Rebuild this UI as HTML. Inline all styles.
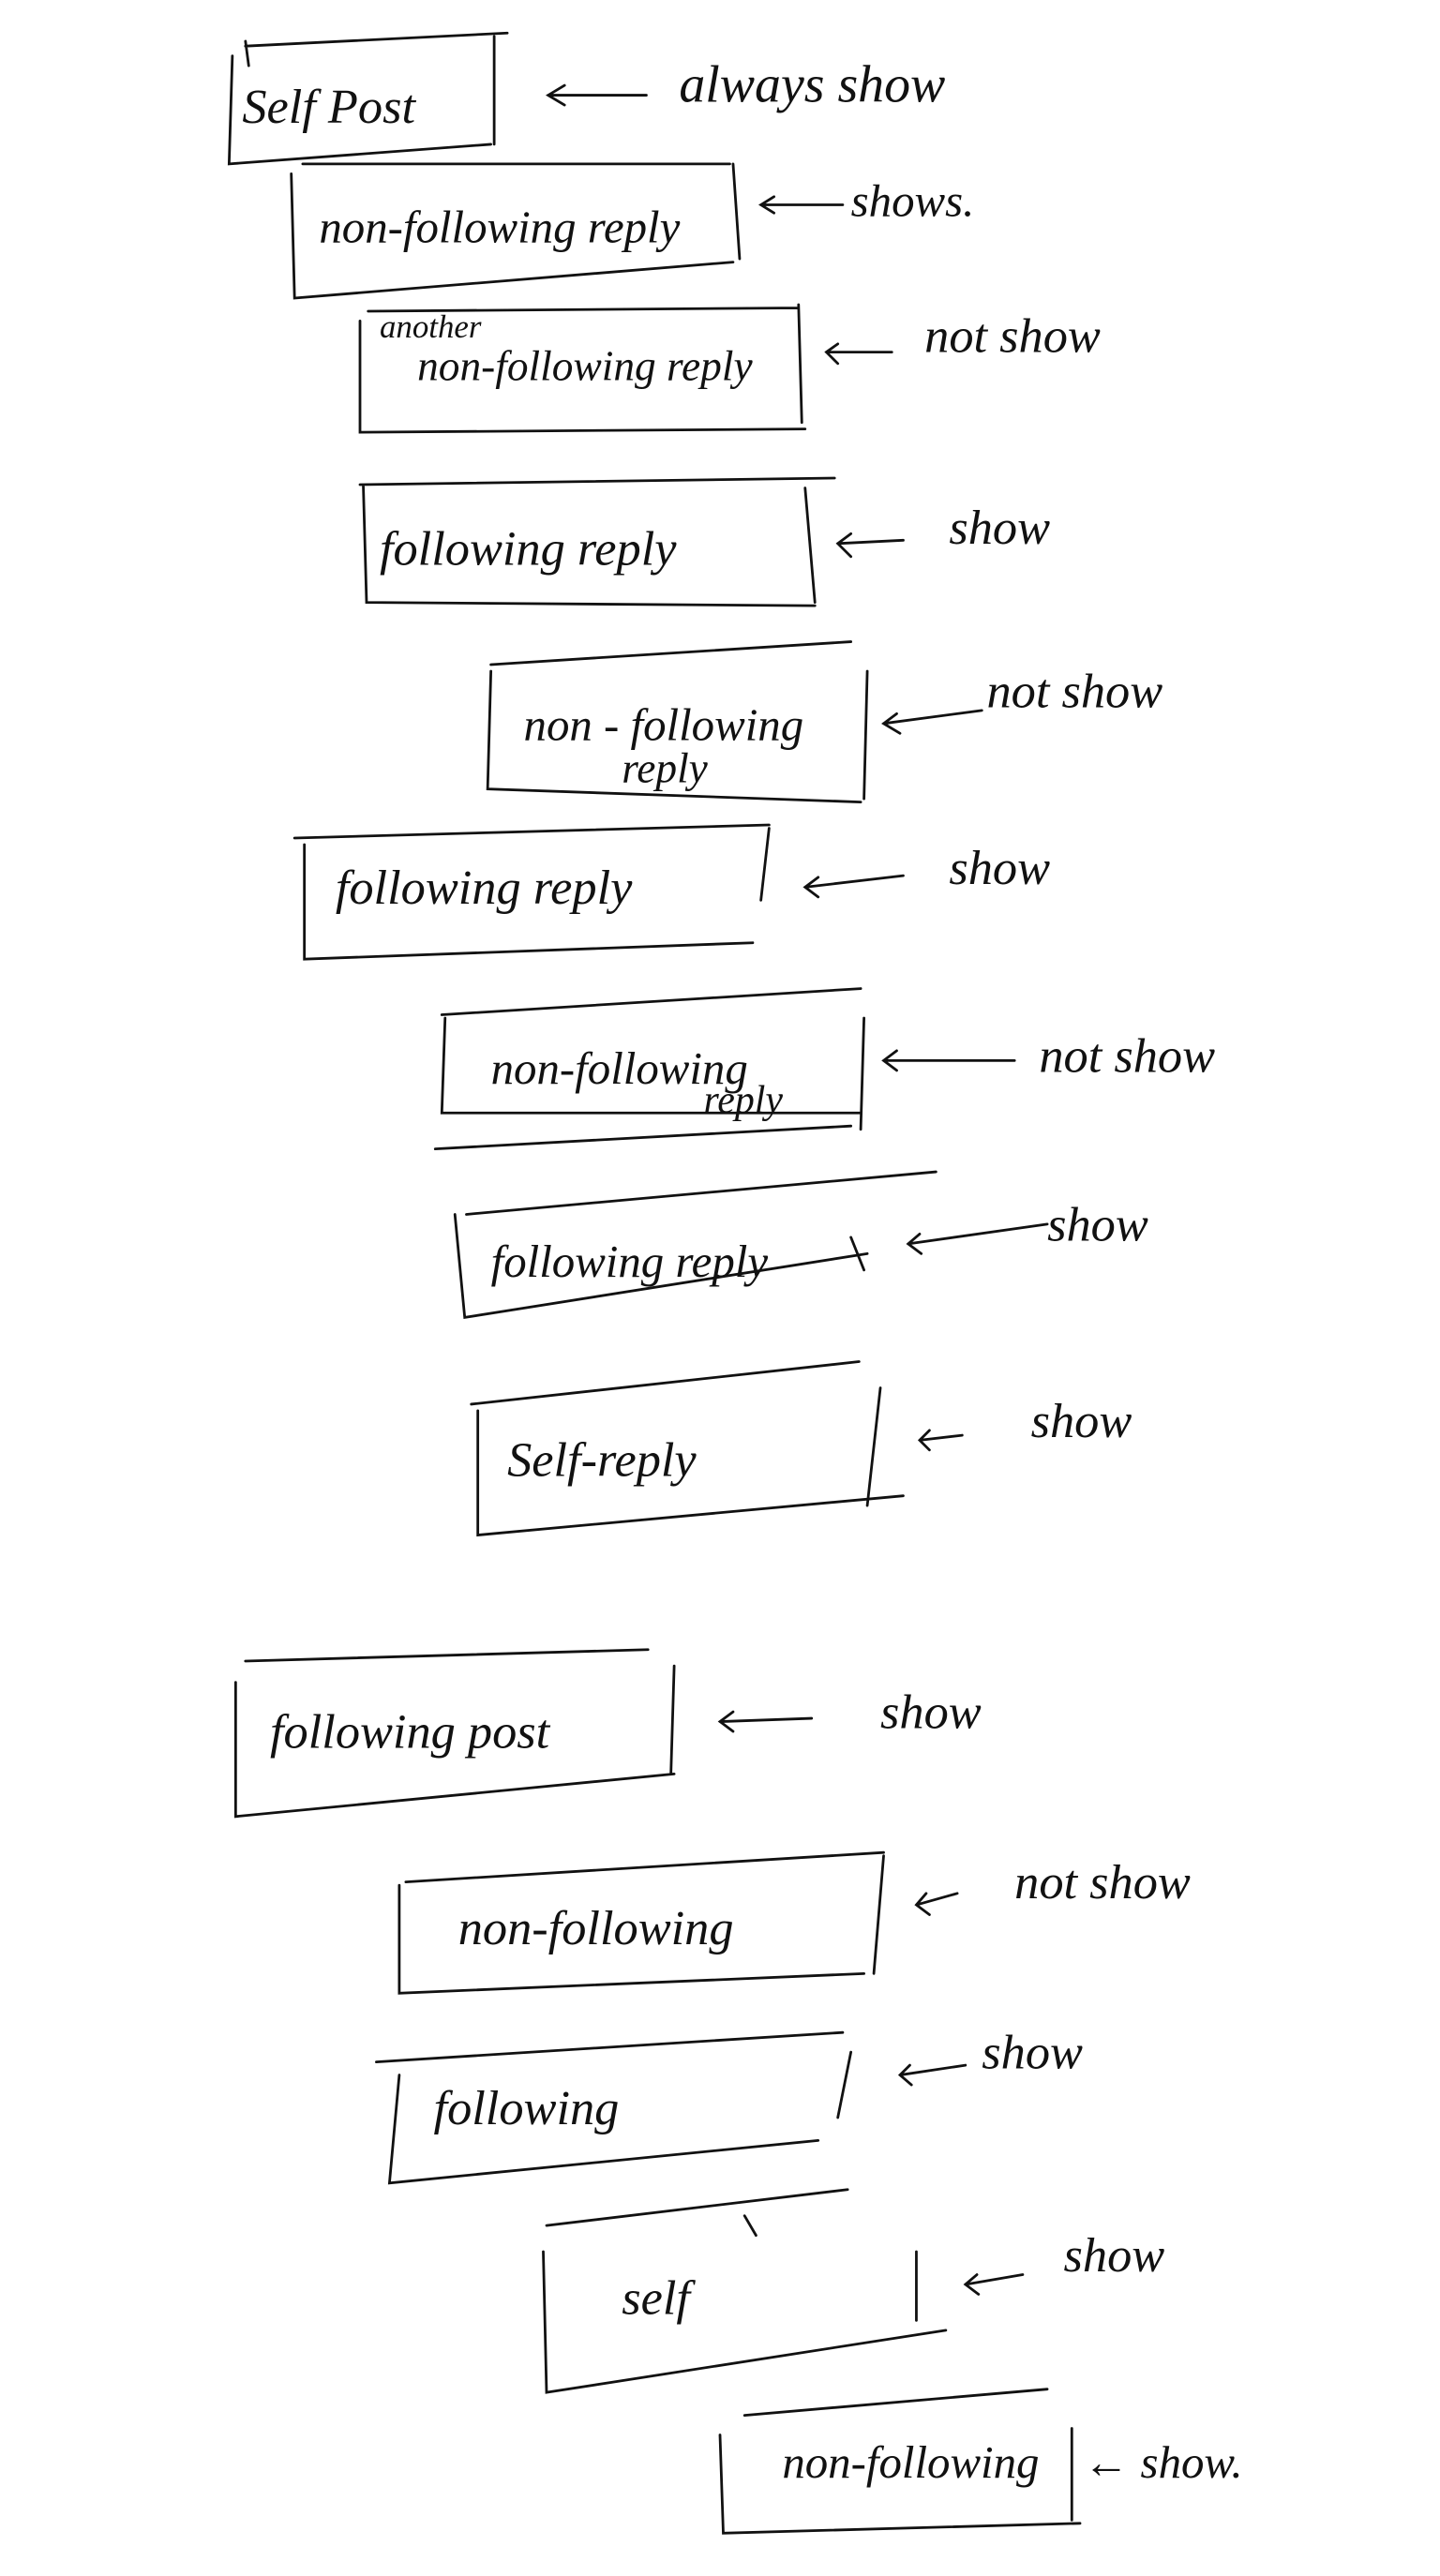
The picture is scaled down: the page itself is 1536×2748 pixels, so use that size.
<!DOCTYPE html>
<html><head><meta charset="utf-8"><style>
html,body{margin:0;padding:0;background:#fff;}
svg{display:block}
text{font-family:"Liberation Serif",serif;font-style:italic;fill:#111;}
</style></head><body>
<svg width="1536" height="2748" viewBox="0 0 880 1574" xmlns="http://www.w3.org/2000/svg">
<g fill="none" stroke="#111" stroke-width="1.6" stroke-linecap="round">
<!-- 1 -->
<path d="M150 28 L310 20 M142 34 L140 100 L300 88 M302 22 L302 88 M150 25 L152 40"/>
<path d="M395 58 L335 58 M345 52 L335 58 L345 64"/>
<!-- 2 -->
<path d="M185 100 L446 100 M178 106 L180 182 L448 160 M448 100 L452 158"/>
<path d="M515 125 L465 125 M473 120 L465 125 L473 130"/>
<!-- 3 -->
<path d="M225 190 L488 188 M220 196 L220 264 L492 262 M488 186 L490 258"/>
<path d="M545 215 L505 215 M512 210 L505 215 L512 222"/>
<!-- 4 -->
<path d="M220 296 L510 292 M222 296 L224 368 L498 370 M492 298 L498 368"/>
<path d="M552 330 L512 332 M520 326 L512 332 L520 340"/>
<!-- 5 -->
<path d="M300 406 L520 392 M300 410 L298 482 L526 490 M530 410 L528 488"/>
<path d="M600 434 L540 442 M548 436 L540 442 L550 448"/>
<!-- 6 -->
<path d="M180 512 L470 504 M186 516 L186 586 L460 576 M470 506 L465 550"/>
<path d="M552 535 L492 542 M500 536 L492 542 L500 548"/>
<!-- 7 -->
<path d="M270 620 L526 604 M272 622 L270 680 L526 680 M528 622 L526 690 M266 702 L520 688"/>
<path d="M620 648 L540 648 M548 642 L540 648 L548 654"/>
<!-- 8 -->
<path d="M285 742 L572 716 M278 742 L284 805 L530 766 M520 756 L528 776"/>
<path d="M640 748 L555 760 M562 754 L555 760 L563 766"/>
<!-- 9 -->
<path d="M288 858 L525 832 M292 862 L292 938 L552 914 M538 848 L530 920"/>
<path d="M588 877 L562 880 M568 874 L562 880 L568 886"/>
<!-- 10 -->
<path d="M150 1015 L396 1008 M144 1028 L144 1110 L412 1084 M412 1018 L410 1084"/>
<path d="M496 1050 L440 1052 M448 1046 L440 1052 L448 1058"/>
<!-- 11 -->
<path d="M248 1150 L540 1132 M244 1152 L244 1218 L528 1206 M540 1134 L534 1206"/>
<path d="M585 1157 L560 1164 M566 1157 L560 1164 L568 1170"/>
<!-- 12 -->
<path d="M230 1260 L515 1242 M244 1268 L238 1334 L500 1308 M520 1254 L512 1294"/>
<path d="M590 1262 L550 1268 M556 1262 L550 1268 L557 1274"/>
<!-- 13 -->
<path d="M334 1360 L518 1338 M332 1376 L334 1462 L578 1424 M560 1376 L560 1418 M455 1354 L462 1366"/>
<path d="M625 1390 L590 1396 M597 1390 L590 1396 L598 1402"/>
<!-- 14 -->
<path d="M455 1476 L640 1460 M440 1488 L442 1548 L660 1542 M655 1484 L655 1540"/>
</g>
<g>
<text x="148" y="75" font-size="30">Self Post</text>
<text x="415" y="62" font-size="32">always show</text>
<text x="195" y="148" font-size="28">non-following reply</text>
<text x="520" y="132" font-size="28">shows.</text>
<text x="232" y="206" font-size="20">another</text>
<text x="255" y="232" font-size="26">non-following reply</text>
<text x="565" y="215" font-size="30">not show</text>
<text x="232" y="345" font-size="30">following reply</text>
<text x="580" y="332" font-size="30">show</text>
<text x="320" y="452" font-size="28">non - following</text>
<text x="380" y="478" font-size="26">reply</text>
<text x="603" y="432" font-size="30">not show</text>
<text x="205" y="552" font-size="30">following reply</text>
<text x="580" y="540" font-size="30">show</text>
<text x="300" y="662" font-size="28">non-following</text>
<text x="430" y="680" font-size="24">reply</text>
<text x="635" y="655" font-size="30">not show</text>
<text x="300" y="780" font-size="28">following reply</text>
<text x="640" y="758" font-size="30">show</text>
<text x="310" y="902" font-size="30">Self-reply</text>
<text x="630" y="878" font-size="30">show</text>
<text x="165" y="1068" font-size="30">following post</text>
<text x="538" y="1056" font-size="30">show</text>
<text x="280" y="1188" font-size="30">non-following</text>
<text x="620" y="1160" font-size="30">not show</text>
<text x="265" y="1298" font-size="30">following</text>
<text x="600" y="1264" font-size="30">show</text>
<text x="380" y="1414" font-size="30">self</text>
<text x="650" y="1388" font-size="30">show</text>
<text x="478" y="1514" font-size="28">non-following</text>
<text x="662" y="1514" font-size="28">← show.</text>
</g>
</svg>
</body></html>
